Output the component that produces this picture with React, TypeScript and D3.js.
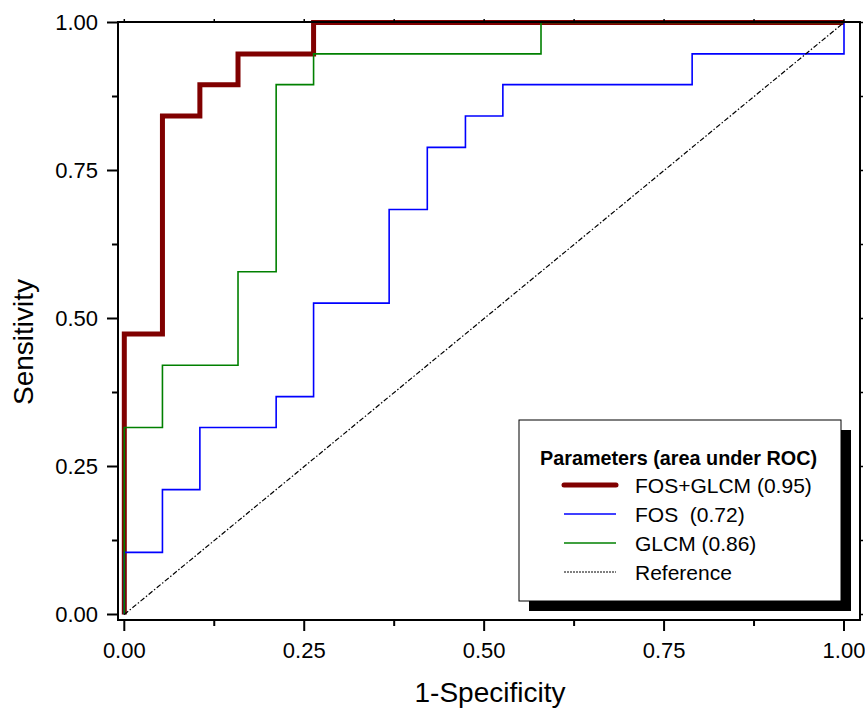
import * as d3 from "d3"

// ROC corner points (fpr, tpr) — stair steps drawn with curveStepAfter
const fosGlcmFpr = [0, 0, 0.053, 0.105, 0.158, 0.263, 1]
const fosGlcmTpr = [0, 0.474, 0.842, 0.895, 0.947, 1, 1]

const fosFpr = [0, 0, 0.053, 0.105, 0.211, 0.263, 0.368, 0.421, 0.474, 0.526, 0.789, 1]
const fosTpr = [0, 0.105, 0.211, 0.316, 0.368, 0.526, 0.684, 0.789, 0.842, 0.895, 0.947, 1]

const glcmFpr = [0, 0, 0.053, 0.158, 0.211, 0.263, 0.579, 1]
const glcmTpr = [0, 0.316, 0.421, 0.579, 0.895, 0.947, 1, 1]

const majorTicks = [0, 0.25, 0.5, 0.75, 1]
const minorTicks = [0.125, 0.375, 0.625, 0.875]
const tickLabels = ["0.00", "0.25", "0.50", "0.75", "1.00"]

const legendTitle = "Parameters (area under ROC)"
const seriesNames = ["FOS+GLCM (0.95)", "FOS  (0.72)", "GLCM (0.86)", "Reference"]

const FONT = "'Liberation Sans', Arial, Helvetica, sans-serif"

export default function App() {
  const frame = { left: 118, right: 860, top: 22, bottom: 620 }

  const x = d3.scaleLinear().domain([0, 1]).range([124.3, 844])
  const y = d3.scaleLinear().domain([0, 1]).range([614.5, 22.5])

  const step = d3
    .line<[number, number]>()
    .x((d) => x(d[0]))
    .y((d) => y(d[1]))
    .curve(d3.curveStepAfter)

  const zip = (a: number[], b: number[]) => a.map((v, i) => [v, b[i]] as [number, number])

  const series = [
    { pts: zip(fosGlcmFpr, fosGlcmTpr), color: "#800000", width: 5 },
    { pts: zip(fosFpr, fosTpr), color: "#0000ff", width: 1.6 },
    { pts: zip(glcmFpr, glcmTpr), color: "#008000", width: 1.6 },
  ]

  const refLine = d3.line<[number, number]>().x((d) => x(d[0])).y((d) => y(d[1]))

  // legend geometry
  const lg = { x: 519, y: 420, w: 322, h: 181, shadow: 10 }
  const rowY = [485, 514, 543, 572]

  return (
    <svg
      width={865}
      height={708}
      style={{ position: "absolute", left: 0, top: 0, background: "#fff" }}
      fontFamily={FONT}
    >
      <rect width={865} height={708} fill="#fff" />

      {/* curves */}
      {series.map((s, i) => (
        <path
          key={i}
          d={step(s.pts) || ""}
          fill="none"
          stroke={s.color}
          strokeWidth={s.width}
          strokeLinejoin="miter"
        />
      ))}
      <path
        d={refLine([[0, 0], [1, 1]]) || ""}
        fill="none"
        stroke="#000"
        strokeWidth={1.2}
        strokeDasharray="5,2,1.5,2"
      />

      {/* frame */}
      <rect
        x={frame.left}
        y={frame.top}
        width={frame.right - frame.left}
        height={frame.bottom - frame.top}
        fill="none"
        stroke="#000"
        strokeWidth={2}
      />

      {/* bottom axis ticks */}
      {majorTicks.map((t, i) => (
        <g key={"bx" + i}>
          <line x1={x(t)} x2={x(t)} y1={frame.bottom} y2={frame.bottom + 11} stroke="#000" strokeWidth={2} />
          <line x1={x(t)} x2={x(t)} y1={frame.top} y2={frame.top - 3} stroke="#000" strokeWidth={1.5} />
          <text x={x(t)} y={658} textAnchor="middle" fontSize={22} fill="#000">
            {tickLabels[i]}
          </text>
        </g>
      ))}
      {minorTicks.map((t, i) => (
        <g key={"mx" + i}>
          <line x1={x(t)} x2={x(t)} y1={frame.bottom} y2={frame.bottom + 6} stroke="#000" strokeWidth={2} />
          <line x1={x(t)} x2={x(t)} y1={frame.top} y2={frame.top - 3} stroke="#000" strokeWidth={1.5} />
        </g>
      ))}

      {/* left axis ticks */}
      {majorTicks.map((t, i) => (
        <g key={"ly" + i}>
          <line x1={frame.left} x2={frame.left - 11} y1={y(t)} y2={y(t)} stroke="#000" strokeWidth={2} />
          <line x1={frame.right} x2={frame.right + 3} y1={y(t)} y2={y(t)} stroke="#000" strokeWidth={1.5} />
          <text x={98} y={y(t)} dy="0.36em" textAnchor="end" fontSize={22} fill="#000">
            {tickLabels[i]}
          </text>
        </g>
      ))}
      {minorTicks.map((t, i) => (
        <g key={"my" + i}>
          <line x1={frame.left} x2={frame.left - 6} y1={y(t)} y2={y(t)} stroke="#000" strokeWidth={2} />
          <line x1={frame.right} x2={frame.right + 3} y1={y(t)} y2={y(t)} stroke="#000" strokeWidth={1.5} />
        </g>
      ))}

      {/* axis titles */}
      <text x={490} y={702} textAnchor="middle" fontSize={28} fill="#000">
        1-Specificity
      </text>
      <text
        transform={`translate(33, 342) rotate(-90)`}
        textAnchor="middle"
        fontSize={28}
        fill="#000"
      >
        Sensitivity
      </text>

      {/* legend */}
      <rect x={lg.x + lg.shadow} y={lg.y + lg.shadow} width={lg.w} height={lg.h} fill="#000" />
      <rect x={lg.x} y={lg.y} width={lg.w} height={lg.h} fill="#fff" stroke="#000" strokeWidth={1} />
      <text x={540} y={465} fontSize={19.8} fontWeight="bold" fill="#000">
        {legendTitle}
      </text>
      {seriesNames.map((name, i) => (
        <g key={"lg" + i}>
          {i < 3 ? (
            <line
              x1={564}
              x2={616}
              y1={rowY[i]}
              y2={rowY[i]}
              stroke={series[i].color}
              strokeWidth={series[i].width}
              strokeLinecap={i === 0 ? "round" : "butt"}
            />
          ) : (
            <line x1={564} x2={616} y1={rowY[i]} y2={rowY[i]} stroke="#000" strokeWidth={1} strokeDasharray="2,1" />
          )}
          <text x={635} y={rowY[i]} dy="0.36em" fontSize={21} fill="#000" style={{ whiteSpace: "pre" }}>
            {name}
          </text>
        </g>
      ))}
    </svg>
  )
}
